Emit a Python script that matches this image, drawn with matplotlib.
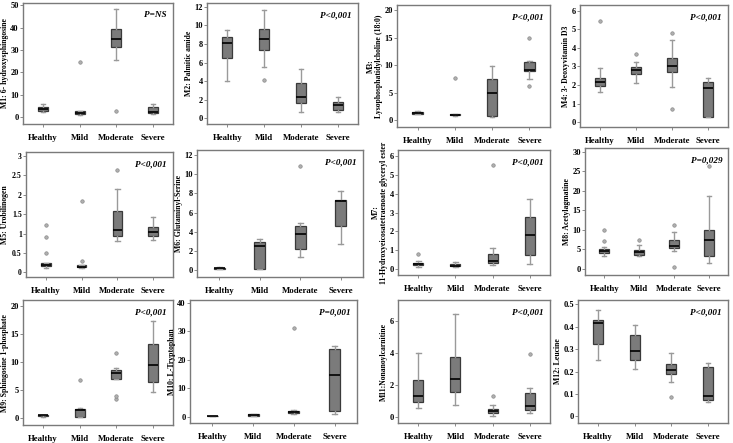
import numpy as np
import matplotlib.pyplot as plt

plt.rcParams['font.family'] = ['Liberation Serif', 'DejaVu Serif']
plt.rcParams['font.weight'] = 'bold'

groups = ['Healthy', 'Mild', 'Moderate', 'Severe']

# each box: (whisker low, q1, median, q3, whisker high)
m1_box = [(2.5, 3.0, 3.7, 4.8, 6.0), (1.0, 1.5, 2.0, 2.7, 3.0),
          (25.5, 31.5, 35.0, 39.5, 48.5), (1.5, 1.8, 2.2, 4.5, 5.8)]
m1_out = [[], [24.5], [2.7], []]

m2_box = [(4.0, 6.5, 8.1, 8.7, 9.5), (5.5, 7.4, 8.5, 9.6, 11.6),
          (0.7, 1.65, 2.3, 3.85, 5.35), (0.7, 0.9, 1.4, 1.8, 2.25)]
m2_out = [[], [4.1], [], []]

m3_box = [(1.1, 1.25, 1.4, 1.6, 1.7), (0.85, 0.95, 1.0, 1.1, 1.15),
          (0.6, 0.75, 4.9, 7.6, 9.9), (7.6, 9.0, 9.2, 10.7, 10.8)]
m3_out = [[], [7.7], [], [15.0, 6.2]]

m4_box = [(1.65, 1.95, 2.15, 2.4, 2.9), (2.1, 2.6, 2.8, 2.95, 3.25),
          (1.9, 2.7, 3.0, 3.45, 4.4), (0.28, 0.3, 1.85, 2.15, 2.4)]
m4_out = [[5.45], [3.65], [4.8, 0.7], []]

m5_box = [(0.12, 0.17, 0.2, 0.24, 0.25), (0.1, 0.13, 0.15, 0.19, 0.2),
          (0.8, 0.93, 1.1, 1.58, 2.15), (0.83, 0.93, 1.05, 1.18, 1.43)]
m5_out = [[0.5, 0.9, 1.22], [0.3, 1.85], [2.63], []]

m6_box = [(0.1, 0.15, 0.2, 0.28, 0.3), (0.1, 0.15, 2.5, 2.9, 3.2),
          (1.4, 2.2, 3.8, 4.6, 4.95), (2.7, 4.55, 7.2, 7.35, 8.2)]
m6_out = [[], [], [10.8], []]

m7_box = [(0.12, 0.22, 0.3, 0.35, 0.45), (0.12, 0.15, 0.2, 0.27, 0.4),
          (0.25, 0.35, 0.42, 0.82, 1.1), (0.3, 0.78, 1.8, 2.75, 3.7)]
m7_out = [[0.8], [], [5.5], []]

m8_box = [(3.2, 4.0, 4.5, 5.1, 5.5), (3.4, 3.6, 4.3, 4.9, 6.0),
          (4.5, 5.3, 5.9, 7.5, 9.4), (1.5, 3.3, 7.3, 10.0, 18.7)]
m8_out = [[7.2, 10.0], [7.5], [11.2, 0.5], [26.5]]

m9_box = [(0.3, 0.4, 0.5, 0.55, 0.6), (0.2, 0.3, 1.4, 1.7, 1.8),
          (6.9, 7.0, 8.0, 8.6, 8.9), (4.6, 6.4, 9.5, 13.2, 17.3)]
m9_out = [[], [6.8], [11.6, 3.5, 4.0], []]

m10_box = [(0.1, 0.2, 0.3, 0.35, 0.4), (0.2, 0.4, 0.6, 0.8, 1.0),
           (0.8, 1.3, 1.6, 1.9, 2.2), (0.8, 2.0, 14.7, 23.8, 25.0)]
m10_out = [[], [], [31.0], []]

m11_box = [(0.6, 0.95, 1.3, 2.35, 4.0), (0.8, 1.6, 2.4, 3.75, 6.4),
           (0.1, 0.25, 0.4, 0.55, 0.75), (0.28, 0.45, 0.7, 1.5, 1.85)]
m11_out = [[], [], [1.3], [3.95]]

m12_box = [(0.25, 0.325, 0.415, 0.43, 0.475), (0.21, 0.25, 0.29, 0.365, 0.41),
           (0.155, 0.19, 0.205, 0.235, 0.285), (0.065, 0.075, 0.09, 0.22, 0.24)]
m12_out = [[], [], [0.088], []]

labels = ['M1: 6- hydroxysphingosine', 'M2: Palmitic amide',
          'M3:\nLysophosphatidylcholine (18:0)', 'M4: 3- Deoxyvitamin D3',
          'M5: Urobilinogen', 'M6: Glutaminyl-Serine',
          'M7:\n11-Hydroxyeicosatetraenoate glyceryl ester', 'M8: Acetylagmatine',
          'M9: Sphingosine 1-phosphate', 'M10: L-Tryptophan',
          'M11:Nonanoylcarnitine', 'M12: Leucine']
pvals = ['P=NS', 'P<0,001', 'P<0,001', 'P<0,001', 'P<0,001', 'P<0,001',
         'P<0,001', 'P=0,029', 'P<0,001', 'P=0,001', 'P<0,001', 'P<0,001']
yticks = [[0, 10, 20, 30, 40, 50], [0, 2, 4, 6, 8, 10, 12], [0, 5, 10, 15, 20],
          [0, 1, 2, 3, 4, 5, 6], [0, 0.5, 1, 1.5, 2, 2.5, 3], [0, 2, 4, 6, 8, 10, 12],
          [0, 1, 2, 3, 4, 5, 6], [0, 5, 10, 15, 20, 25, 30], [0, 5, 10, 15, 20],
          [0, 10, 20, 30, 40], [0, 2, 4, 6], [0, 0.1, 0.2, 0.3, 0.4, 0.5]]
ylims = [(-3, 51), (-0.6, 12.4), (-1.2, 21), (-0.25, 6.3), (-0.12, 3.1), (-0.7, 12.5),
         (-0.3, 6.3), (-1.6, 31), (-1.2, 21), (-2.2, 41), (-0.35, 7.3), (-0.03, 0.52)]

boxes = [m1_box, m2_box, m3_box, m4_box, m5_box, m6_box,
         m7_box, m8_box, m9_box, m10_box, m11_box, m12_box]
outs = [m1_out, m2_out, m3_out, m4_out, m5_out, m6_out,
        m7_out, m8_out, m9_out, m10_out, m11_out, m12_out]

# panel rectangles in pixels: left, right, top, bottom
W, H = 733, 443
rects = [(23, 173, 3, 124), (207, 358, 3, 124), (397, 550, 5, 127), (580, 728, 5, 127),
         (26, 173, 152, 277), (197, 363, 150, 277), (398, 550, 150, 275), (585, 728, 148, 275),
         (23, 173, 300, 425), (190, 357, 300, 423), (398, 550, 300, 423), (578, 728, 300, 423)]

fig = plt.figure(figsize=(W / 100, H / 100), dpi=100)
spine_col = '#7a7a7a'

for i in range(12):
    l, r, t, b = rects[i]
    ax = fig.add_axes([l / W, 1 - b / H, (r - l) / W, (b - t) / H])
    stats = []
    for g, (lo, q1, med, q3, hi) in enumerate(boxes[i]):
        stats.append(dict(whislo=lo, q1=q1, med=med, q3=q3, whishi=hi,
                          fliers=outs[i][g], label=groups[g]))
    ax.bxp(stats, positions=[1, 2, 3, 4], widths=0.27, patch_artist=True,
           boxprops=dict(facecolor='#7b7b7b', edgecolor='#3a3a3a', linewidth=0.9),
           medianprops=dict(color='black', linewidth=1.2),
           whiskerprops=dict(color='#9a9a9a', linewidth=1.0),
           capprops=dict(color='#9a9a9a', linewidth=1.0),
           capwidths=0.12,
           flierprops=dict(marker='o', markersize=2.5, markerfacecolor='#b0b0b0',
                           markeredgecolor='#8a8a8a', markeredgewidth=0.5))
    ax.set_xlim(0.45, 4.55)
    ax.set_ylim(*ylims[i])
    ax.set_yticks(yticks[i])
    ax.set_yticklabels([f'{v:g}' for v in yticks[i]])
    ax.set_xticks([1, 2, 3, 4])
    ax.set_xticklabels(groups)
    ax.tick_params(axis='y', labelsize=6, length=2, width=0.6, color='#777777', pad=1)
    ax.tick_params(axis='x', labelsize=6.3, length=2, width=0.6, color='#777777', pad=5)
    for s in ax.spines.values():
        s.set_color(spine_col)
        s.set_linewidth(1.0)
    ax.set_ylabel(labels[i], fontsize=5.6, fontweight='bold', labelpad=1,
                  linespacing=1.0)
    if i == 4:
        # tick labels with decimals are wider here, keep the label inside the figure
        ax.tick_params(axis='y', labelsize=5.6)
        ax.yaxis.set_label_coords(-(l - 9) / (r - l), 0.5)
    ax.text(0.96, 0.93, pvals[i], transform=ax.transAxes, ha='right', va='top',
            fontsize=6.6, fontweight='bold', fontstyle='italic')

fig.savefig('out.png', dpi=100)
